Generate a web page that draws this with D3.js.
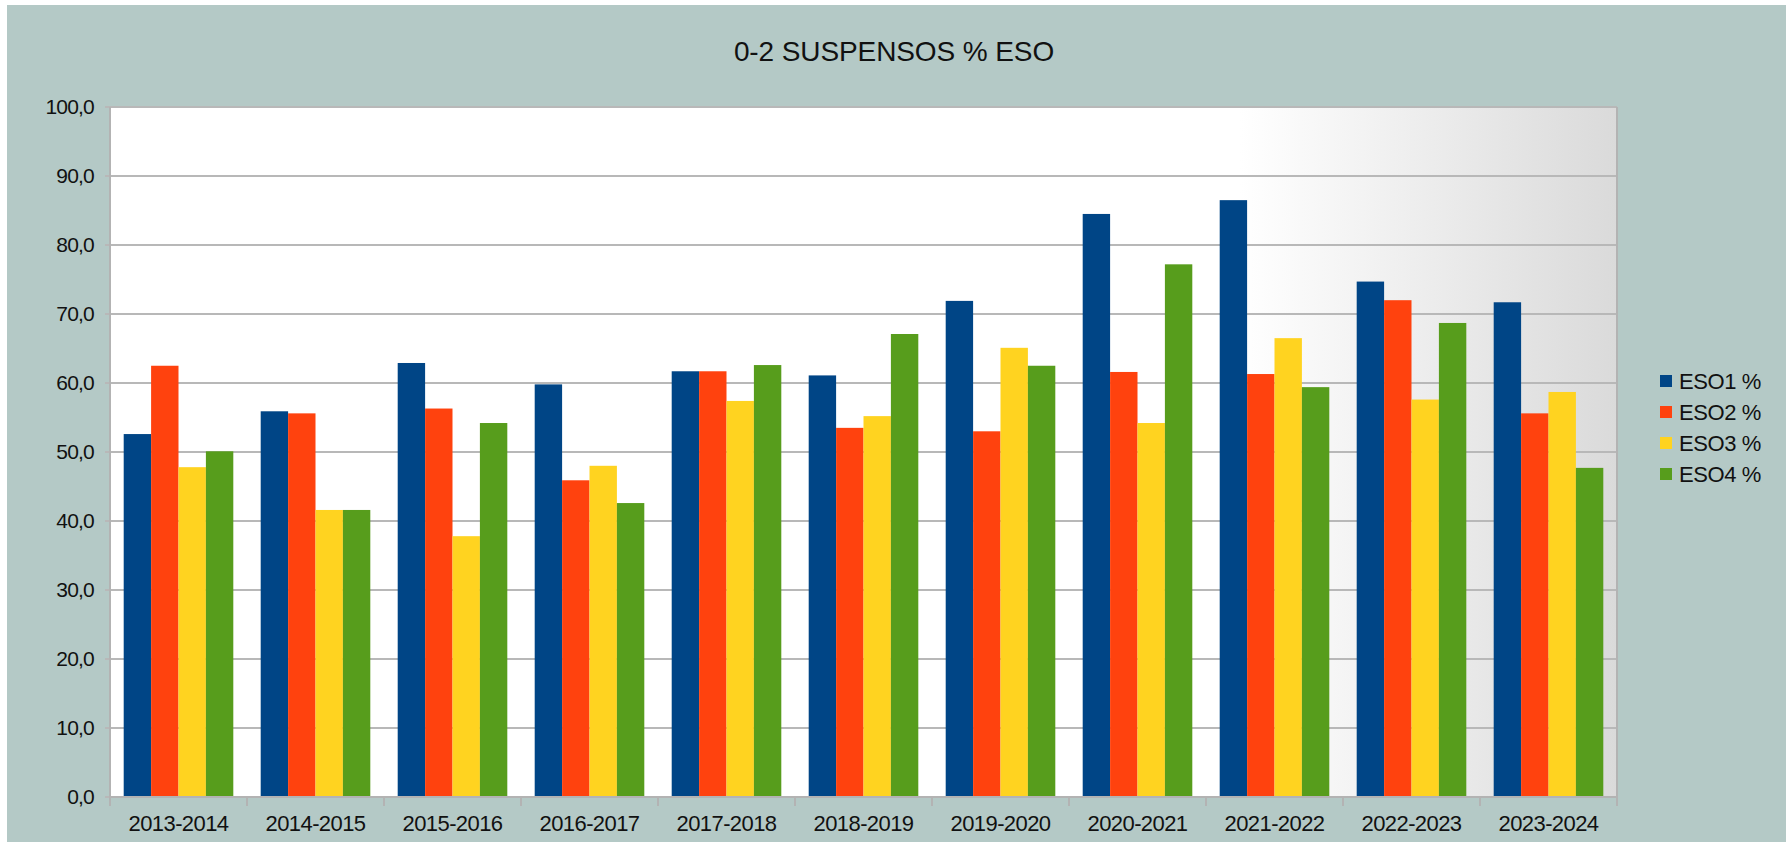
<!DOCTYPE html>
<html lang="es">
<head>
<meta charset="utf-8">
<title>0-2 SUSPENSOS % ESO</title>
<script src="https://d3js.org/d3.v7.min.js"></script>
<style>
	body { margin: 0; background: #fff; }
	text { font-family: "Liberation Sans", Arial, sans-serif; fill: #111; }
</style>
</head>
<body>
<div id="chart"></div>
<script>
	// data
	var cursos = ['2013-2014', '2014-2015', '2015-2016', '2016-2017', '2017-2018', '2018-2019',
		'2019-2020', '2020-2021', '2021-2022', '2022-2023', '2023-2024'];
	var series = ['ESO1 %', 'ESO2 %', 'ESO3 %', 'ESO4 %'];
	var eso1 = [52.6, 55.9, 62.9, 59.8, 61.7, 61.1, 71.9, 84.5, 86.5, 74.7, 71.7];
	var eso2 = [62.5, 55.6, 56.3, 45.9, 61.7, 53.5, 53.0, 61.6, 61.3, 72.0, 55.6];
	var eso3 = [47.8, 41.6, 37.8, 48.0, 57.4, 55.2, 65.1, 54.2, 66.5, 57.6, 58.7];
	var eso4 = [50.1, 41.6, 54.2, 42.6, 62.6, 67.1, 62.5, 77.2, 59.4, 68.7, 47.7];
	var yTicks = [0, 10, 20, 30, 40, 50, 60, 70, 80, 90, 100];
	var colors = ['#004586', '#ff420e', '#ffd320', '#579d1c'];

	var values = [eso1, eso2, eso3, eso4];

	var W = 1786, H = 842;
	var margin = {top: 107, right: 169, bottom: 45, left: 110},
		width = W - margin.left - margin.right,
		height = H - margin.top - margin.bottom;

	var svg = d3.select('#chart').append('svg')
		.attr('width', W)
		.attr('height', H);

	// page background
	svg.append('rect')
		.attr('x', 7).attr('y', 5)
		.attr('width', W - 7).attr('height', H - 5)
		.attr('fill', '#b4c9c6');

	// plot area gradient
	var grad = svg.append('defs').append('linearGradient')
		.attr('id', 'wallGrad')
		.attr('x1', '0%').attr('x2', '100%').attr('y1', '0%').attr('y2', '0%');
	grad.append('stop').attr('offset', '75%').attr('stop-color', '#ffffff');
	grad.append('stop').attr('offset', '100%').attr('stop-color', '#dadada');

	svg.append('text')
		.attr('x', 894)
		.attr('y', 61)
		.attr('text-anchor', 'middle')
		.style('font-size', '28px')
		.style('letter-spacing', '-0.1px')
		.text('0-2 SUSPENSOS % ESO');

	var g = svg.append('g')
		.attr('transform', 'translate(' + margin.left + ',' + margin.top + ')');

	g.append('rect')
		.attr('width', width)
		.attr('height', height)
		.attr('fill', 'url(#wallGrad)');

	var x0 = d3.scaleBand().domain(cursos).range([0, width]).paddingInner(0).paddingOuter(0);
	var x1 = d3.scaleBand().domain(series).range([0, x0.bandwidth()]).paddingInner(0).paddingOuter(0.5);
	var y = d3.scaleLinear().domain([0, 100]).range([height, 0]);

	// gridlines
	g.selectAll('.grid')
		.data(yTicks)
		.enter().append('line')
		.attr('x1', -5)
		.attr('x2', width)
		.attr('y1', function(d) { return y(d); })
		.attr('y2', function(d) { return y(d); })
		.attr('stroke', '#b8b8b8')
		.attr('stroke-width', 2);

	// y labels
	g.selectAll('.ylab')
		.data(yTicks)
		.enter().append('text')
		.attr('x', -16)
		.attr('y', function(d) { return y(d); })
		.attr('dy', '0.35em')
		.attr('text-anchor', 'end')
		.style('font-size', '21px')
		.style('letter-spacing', '-0.8px')
		.text(function(d) { return d3.format('.1f')(d).replace('.', ','); });

	// bars
	var groups = g.selectAll('.grp')
		.data(cursos)
		.enter().append('g')
		.attr('transform', function(d) { return 'translate(' + x0(d) + ',0)'; });

	groups.selectAll('rect')
		.data(function(d, i) { return series.map(function(s, j) { return {s: s, v: values[j][i], c: colors[j]}; }); })
		.enter().append('rect')
		.attr('x', function(d) { return x1(d.s); })
		.attr('y', function(d) { return y(d.v); })
		.attr('width', x1.bandwidth())
		.attr('height', function(d) { return height - y(d.v); })
		.attr('fill', function(d) { return d.c; });

	// axis frame
	g.append('line').attr('x1', 0).attr('x2', 0).attr('y1', 0).attr('y2', height)
		.attr('stroke', '#b3b3b3').attr('stroke-width', 2);
	g.append('line').attr('x1', width).attr('x2', width).attr('y1', 0).attr('y2', height)
		.attr('stroke', '#b3b3b3').attr('stroke-width', 2);
	g.append('line').attr('x1', 0).attr('x2', width).attr('y1', height).attr('y2', height)
		.attr('stroke', '#b3b3b3').attr('stroke-width', 2);

	// x ticks at band edges
	var edges = cursos.map(function(c) { return x0(c); }).concat([width]);
	g.selectAll('.xtick')
		.data(edges)
		.enter().append('line')
		.attr('x1', function(d) { return d; })
		.attr('x2', function(d) { return d; })
		.attr('y1', height)
		.attr('y2', height + 9)
		.attr('stroke', '#b3b3b3')
		.attr('stroke-width', 2);

	g.selectAll('.xlab')
		.data(cursos)
		.enter().append('text')
		.attr('x', function(d) { return x0(d) + x0.bandwidth() / 2; })
		.attr('y', height + 34)
		.attr('text-anchor', 'middle')
		.style('font-size', '22px')
		.style('letter-spacing', '-0.6px')
		.text(function(d) { return d; });

	// legend
	var legend = svg.append('g')
		.attr('transform', 'translate(1660,381)');
	var items = legend.selectAll('g')
		.data(series)
		.enter().append('g')
		.attr('transform', function(d, i) { return 'translate(0,' + (i * 31) + ')'; });
	items.append('rect')
		.attr('x', 0).attr('y', -6)
		.attr('width', 12).attr('height', 12)
		.attr('fill', function(d, i) { return colors[i]; });
	items.append('text')
		.attr('x', 19)
		.attr('dy', '0.35em')
		.style('font-size', '22px')
		.style('letter-spacing', '-0.4px')
		.text(function(d) { return d; });
</script>
</body>
</html>
